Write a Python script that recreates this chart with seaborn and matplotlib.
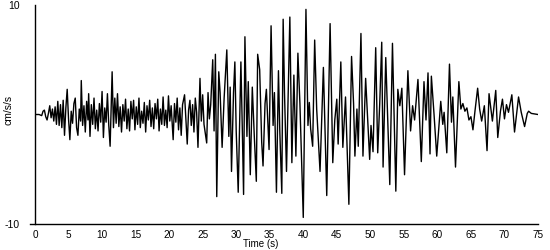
import matplotlib
matplotlib.use("Agg")
import matplotlib.pyplot as plt
import seaborn as sns
import pandas as pd

# Peak / trough readings of the accelerogram (time in s, acceleration in cm/s/s)
t_early = [0.0, 0.6, 1.0, 1.2, 1.4, 1.6, 1.8, 2.0, 2.2, 2.4, 2.6, 2.8, 3.0, 3.2, 3.4, 3.6, 3.8,
           4.0, 4.2, 4.4, 4.6, 4.8, 5.0, 5.2, 5.4, 5.6, 5.8, 6.0, 6.2, 6.4, 6.6, 6.8, 6.9, 7.1,
           7.3, 7.5, 7.7, 7.9, 8.0, 8.2, 8.4, 8.6, 8.8, 9.0, 9.2, 9.4, 9.6, 9.8, 10.0, 10.2,
           10.4, 10.6, 10.8, 11.0, 11.2, 11.5, 11.7, 11.9, 12.1, 12.3, 12.5, 12.7]
a_early = [0.0, 0.0, -0.1, 0.3, 0.4, -0.2, -0.5, 0.1, 0.8, -0.3, 0.5, -0.6, 0.7, -0.9, 1.2, -1.0, 0.9,
           -1.2, 1.3, -1.9, 0.6, 2.3, -0.4, -2.3, 0.3, -0.8, 1.0, 1.5, -1.2, -1.9, 0.5, -0.6, 3.1, -1.0,
           0.8, -1.6, 1.2, -0.5, 1.9, -2.0, 0.9, -0.9, 1.5, -1.3, 0.4, -1.5, 1.0, -0.7, 2.1, -2.1,
           0.6, -0.7, 1.9, -1.0, -2.9, 3.9, -1.2, 1.5, -0.8, 1.9, -1.1, 0.7]

t_mid = [12.9, 13.1, 13.3, 13.5, 13.7, 13.9, 14.1, 14.3, 14.5, 14.7, 14.9, 15.1, 15.3, 15.5, 15.7,
         15.9, 16.1, 16.3, 16.5, 16.7, 16.9, 17.1, 17.3, 17.5, 17.7, 17.9, 18.1, 18.3, 18.5, 18.7,
         18.9, 19.1, 19.3, 19.5, 19.7, 19.9, 20.1, 20.3, 20.6, 20.8, 21.0, 21.2, 21.4, 21.6, 21.8,
         22.0, 22.3, 22.5, 22.7, 22.9, 23.1, 23.3, 23.5, 23.7, 23.9, 24.1, 24.3, 24.6, 24.8, 25.0,
         25.2, 25.6, 25.8, 26.0, 26.2]
a_mid = [-1.6, 0.9, -0.6, 1.4, -1.3, 0.5, -1.5, 1.2, -0.4, 1.3, -1.4, 0.7, -0.9, 1.5, -1.2,
         0.3, -0.8, 1.1, -1.6, 0.8, -0.5, 1.3, -1.1, 0.6, -1.3, 1.0, -0.4, 1.4, -1.5, 0.5,
         -0.9, 1.6, -1.0, 0.4, -1.2, 1.7, -0.6, 0.8, -2.3, 1.0, -0.7, 1.5, -1.4, 0.6, -1.9,
         0.9, 1.8, -0.5, -2.7, 0.4, 1.3, -1.0, 0.9, -1.6, 1.5, 0.2, -3.0, 3.3, -0.6, 1.8,
         -0.9, -2.6, 2.0, -0.4, 0.9]

t_strong = [26.5, 26.7, 26.9, 27.1, 27.4, 27.6, 27.9, 28.2, 28.6, 28.9, 29.1, 29.3, 29.6, 29.8,
            30.0, 30.3, 30.7, 30.9, 31.1, 31.3, 31.6, 31.8, 32.1, 32.4, 32.7, 33.0, 33.2, 33.5,
            33.8, 34.0, 34.3, 34.5, 34.9, 35.2, 35.5, 35.7, 36.0, 36.3, 36.5, 36.8, 37.0, 37.2,
            37.5, 38.0, 38.3, 38.6, 38.9, 39.2, 39.5, 40.0, 40.4, 40.7, 40.9, 41.1, 41.4, 41.7,
            42.0, 42.5, 43.0, 43.5, 44.0, 44.4, 44.7, 45.0, 45.2, 45.6, 45.9, 46.3, 46.8, 47.2,
            47.5, 47.7, 48.0, 48.2, 48.6, 48.9, 49.3, 49.9, 50.1, 50.4, 50.8, 51.1, 51.4, 51.7,
            51.9, 52.3, 52.9, 53.3, 53.8, 54.1, 54.4, 54.7, 55.1]
a_strong = [5.0, -1.5, 5.5, -7.5, 3.9, 2.0, -3.0, 1.5, 5.9, -2.0, 2.5, -5.2, 2.0, 4.8,
            -1.5, -7.1, 4.8, -1.0, -7.3, 7.1, -2.0, 3.0, -5.5, 2.5, -2.0, -6.1, 5.5, 4.1,
            -2.5, -4.7, 1.0, 2.3, -3.2, 8.1, -1.0, 2.0, -7.1, 4.0, -1.5, -7.2, 8.7, 2.0,
            -5.2, 8.9, -4.4, 3.6, -3.8, 5.6, 1.0, -9.4, 9.6, -1.0, 1.1, -1.3, -2.9, 6.8,
            0.5, -5.2, 4.3, -7.4, 8.3, -4.4, -0.5, 1.4, -2.7, 4.8, -3.0, 1.6, -8.2, 5.3,
            1.0, -3.8, 0.5, -2.9, 7.4, -3.8, 3.3, -4.1, -1.0, -3.4, 6.1, -3.5, 1.0, 6.6,
            -4.8, 5.2, -6.4, 6.5, -7.0, 2.3, 0.8, 2.4, -5.5]

t_coda = [55.6, 56.0, 56.3, 56.6, 57.1, 57.6, 58.0, 58.3, 58.6, 58.9, 59.1, 59.5, 59.9, 60.5,
          60.8, 61.0, 61.4, 61.8, 62.1, 62.3, 62.7, 63.2, 63.5, 63.8, 64.1, 64.4, 64.7, 65.0,
          65.3, 65.6, 66.0, 66.3, 66.6, 67.0, 67.4, 67.7, 68.2, 68.7, 69.0, 69.4, 69.7, 70.0,
          70.3, 70.6, 71.1, 71.5, 72.1, 72.5, 73.0, 73.4, 73.6, 74.0, 75.0]
a_coda = [4.0, -1.5, 0.8, -0.5, 3.2, -4.3, 3.0, -0.5, 3.8, -3.6, 3.5, 0.0, -3.8, 1.2,
          -0.9, 0.2, -3.5, 4.6, -0.7, 1.6, -4.8, 3.0, 0.5, 1.0, 0.3, 0.6, -0.5, -0.2,
          -1.4, 0.3, 2.4, 0.5, -0.6, 0.8, -3.3, 1.9, -0.6, 2.2, -2.1, 0.3, 1.4, -0.4,
          0.9, 0.2, 1.8, -1.6, 1.6, 0.2, -1.1, 0.1, 0.3, 0.1, 0.0]

x_ticks = [0, 5, 10, 15, 20, 25, 30, 35, 40, 45, 50, 55, 60, 65, 70, 75]
y_ticks = [-10, 10]

df = pd.DataFrame({
    "time": t_early + t_mid + t_strong + t_coda,
    "acc": a_early + a_mid + a_strong + a_coda,
})

sns.set_style("white")
plt.rcParams["font.family"] = ["Liberation Sans", "DejaVu Sans"]

fig = plt.figure(figsize=(5.5, 2.5), dpi=100)
ax = fig.add_axes([35 / 550, 1 - 224 / 250, 503 / 550, 219 / 250])

sns.lineplot(data=df, x="time", y="acc", ax=ax, color="black", linewidth=1.0,
             sort=False, estimator=None)

ax.set_xlim(0, 75)
ax.set_ylim(-10, 10)
ax.set_xticks(x_ticks)
ax.set_yticks(y_ticks)
ax.set_xticklabels([str(v) for v in x_ticks], fontsize=7.2)
ax.set_yticklabels([str(v) for v in y_ticks], fontsize=7.5)

for side in ["top", "right"]:
    ax.spines[side].set_visible(False)
for side in ["left", "bottom"]:
    ax.spines[side].set_color("black")
    ax.spines[side].set_linewidth(1.0)
ax.spines["bottom"].set_bounds(-0.75, 75)

ax.tick_params(axis="x", direction="out", length=4, width=1, color="black", pad=0,
               labelcolor="black")
ax.tick_params(axis="y", length=0, pad=11, labelcolor="black")
ax.grid(False)

ax.set_xlabel("Time (s)", fontsize=7, color="black")
ax.set_ylabel("cm/s/s", fontsize=7.5, color="black")
ax.xaxis.set_label_coords(226 / 503, -(239 - 224) / 219)
ax.yaxis.set_label_coords(-0.042, 0.52)

fig.savefig("out.png", dpi=100, facecolor="white")
